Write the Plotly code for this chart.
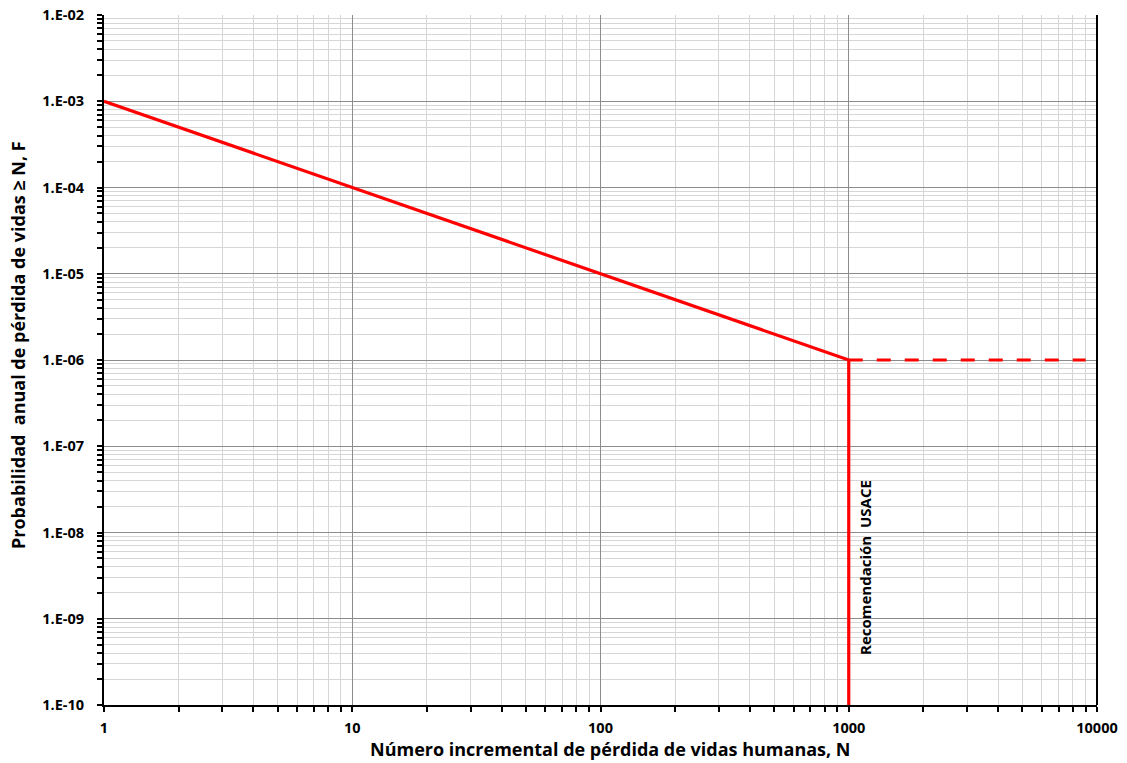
import plotly.graph_objects as go

# Data
line_n = [1, 10, 100, 1000]
line_f = [1e-3, 1e-4, 1e-5, 1e-6]
dash_n = [1000, 9000]
dash_f = [1e-6, 1e-6]
vert_n = [1000, 1000]
vert_f = [1e-6, 1e-10]

x_tickvals = [1, 10, 100, 1000, 10000]
x_ticktext = ["1", "10", "100", "1000", "10000"]
y_tickvals = [1e-10, 1e-9, 1e-8, 1e-7, 1e-6, 1e-5, 1e-4, 1e-3, 1e-2]
y_ticktext = ["1.E-10", "1.E-09", "1.E-08", "1.E-07", "1.E-06", "1.E-05", "1.E-04", "1.E-03", "1.E-02"]

x_title = "Número incremental de pérdida de vidas humanas, N"
y_title = "Probabilidad  anual de pérdida de vidas ≥ N, F"
note = "Recomendación  USACE"

RED = "#FF0000"
FONT = "Open Sans"

fig = go.Figure()
fig.add_trace(go.Scatter(x=line_n, y=line_f, mode="lines",
                         line=dict(color=RED, width=3.2), showlegend=False))
fig.add_trace(go.Scatter(x=dash_n, y=dash_f, mode="lines",
                         line=dict(color=RED, width=3.2, dash="14px,14px"), showlegend=False))
fig.add_trace(go.Scatter(x=vert_n, y=vert_f, mode="lines",
                         line=dict(color=RED, width=3.2), showlegend=False))

fig.add_annotation(x=3.066, y=-8.41, xref="x", yref="y", text=note,
                   textangle=-90, showarrow=False,
                   font=dict(family=FONT, size=15, color="black", weight="bold"))

# axis titles as annotations for exact placement
fig.add_annotation(x=(610 - 104) / 993, y=(705 - 749) / 690, xref="paper", yref="paper",
                   text=x_title, showarrow=False, xanchor="center", yanchor="middle",
                   font=dict(family=FONT, size=18, color="black", weight="bold"))
fig.add_annotation(x=(18 - 104) / 993, y=(705 - 345) / 690, xref="paper", yref="paper",
                   text=y_title, showarrow=False, textangle=-90, xanchor="center", yanchor="middle",
                   font=dict(family=FONT, size=18, color="black", weight="bold"))

axis_common = dict(
    type="log", showline=True, linecolor="black", linewidth=2, mirror=False,
    showgrid=True, gridcolor="#8c8c8c", gridwidth=1,
    ticks="outside", ticklen=5, tickcolor="black", tickwidth=2,
    tickfont=dict(family=FONT, size=14.5, color="black", weight="bold"),
    zeroline=False,
)

fig.update_xaxes(**axis_common, range=[0, 4], tickvals=x_tickvals, ticktext=x_ticktext,
                 ticklabelstandoff=4,
                 minor=dict(dtick="D1", showgrid=True, gridcolor="#d6d6d6", gridwidth=1,
                            ticks="outside", ticklen=5, tickcolor="black", tickwidth=1.5))
fig.update_yaxes(**axis_common, range=[-10, -2], tickvals=y_tickvals, ticktext=y_ticktext,
                 ticklabelstandoff=10,
                 minor=dict(dtick="D1", showgrid=True, gridcolor="#d6d6d6", gridwidth=1,
                            ticks="outside", ticklen=5, tickcolor="black", tickwidth=1.5))

fig.add_shape(type="line", xref="paper", yref="paper", x0=1, x1=1, y0=0, y1=1,
              line=dict(color="black", width=2))

fig.update_layout(width=1127, height=763, plot_bgcolor="white", paper_bgcolor="white",
                  margin=dict(l=104, r=30, t=15, b=58, autoexpand=False), showlegend=False)

fig.write_html("out.html", config={"displayModeBar": False})

with open("out.html", "r", encoding="utf-8") as f:
    html = f.read()
html = html.replace("<head>", "<head><style>html,body{margin:0;padding:0;overflow:hidden;}</style>", 1)
with open("out.html", "w", encoding="utf-8") as f:
    f.write(html)
